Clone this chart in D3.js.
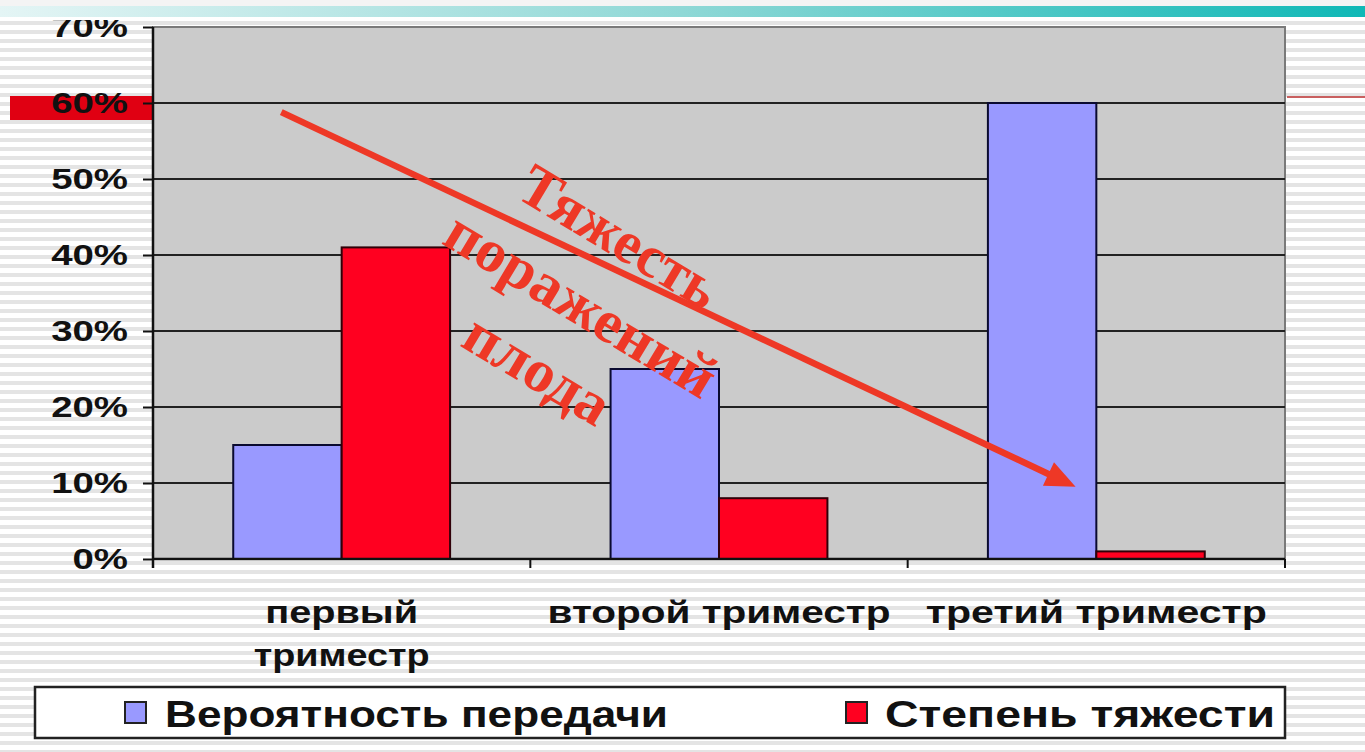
<!DOCTYPE html>
<html lang="ru">
<head>
<meta charset="UTF-8">
<title>Тяжесть поражений плода</title>
<script src="https://d3js.org/d3.v7.min.js"></script>
<style>
  html, body { margin: 0; padding: 0; background: #fff; }
  svg { display: block; }
</style>
</head>
<body>
<div id="chart"></div>
<script>
// data
const categories = ["первый\nтриместр", "второй триместр", "третий триместр"];
const seriesNames = ["Вероятность передачи", "Степень тяжести"];
const transmission = [15, 25, 60];
const severity = [41, 8, 1];
const yTicks = [0, 10, 20, 30, 40, 50, 60, 70];
const noteLines = ["Тяжесть", "поражений", "плода"];

const W = 1365, H = 752;
const SX = 1.28; // the source picture is stretched sideways
const colors = ["#9999ff", "#ff0020"];
const red = "#ee3826";

const svg = d3.select("#chart").append("svg")
    .attr("width", W).attr("height", H);

// striped slide background
const defs = svg.append("defs");
const pat = defs.append("pattern").attr("id", "stripes")
    .attr("width", 10).attr("height", 9).attr("patternUnits", "userSpaceOnUse");
pat.append("rect").attr("width", 10).attr("height", 9).attr("fill", "#ffffff");
pat.append("rect").attr("y", 3).attr("width", 10).attr("height", 4).attr("fill", "#e4e4e4");
const grad = defs.append("linearGradient").attr("id", "teal");
grad.append("stop").attr("offset", "0%").attr("stop-color", "#e4f5f5");
grad.append("stop").attr("offset", "50%").attr("stop-color", "#8fd8d6");
grad.append("stop").attr("offset", "100%").attr("stop-color", "#0fb8b6");

svg.append("rect").attr("width", W).attr("height", H).attr("fill", "url(#stripes)");

// scales
const x0 = d3.scaleBand().domain(categories).range([153, 1285]);
const x1 = d3.scaleBand().domain(seriesNames).range([0, x0.bandwidth()])
    .paddingInner(0).paddingOuter(0.74);
const y = d3.scaleLinear().domain([0, 70]).range([559, 27]);

// red highlight strip behind 60% and line at the right
svg.append("rect").attr("x", 10).attr("y", y(60) - 7).attr("width", 143).attr("height", 24)
    .attr("fill", "#e00012");
svg.append("line").attr("x1", 1287).attr("x2", W).attr("y1", y(60) - 6).attr("y2", y(60) - 6)
    .attr("stroke", "#c96060").attr("stroke-width", 2);

// plot area
svg.append("rect").attr("x", x0.range()[0]).attr("y", y(70))
    .attr("width", x0.range()[1] - x0.range()[0]).attr("height", y(0) - y(70))
    .attr("fill", "#cbcbcb").attr("stroke", "#7a7a7a").attr("stroke-width", 2);

svg.append("g").selectAll("line")
    .data(yTicks.filter(d => d > 0 && d < 70))
    .join("line")
    .attr("x1", x0.range()[0]).attr("x2", x0.range()[1])
    .attr("y1", d => y(d)).attr("y2", d => y(d))
    .attr("stroke", "#222").attr("stroke-width", 2.2);

// bars
const rows = categories.map((c, i) => ({ cat: c, values: [transmission[i], severity[i]] }));
svg.append("g").selectAll("g")
    .data(rows)
    .join("g")
    .attr("transform", d => `translate(${x0(d.cat)},0)`)
    .selectAll("rect")
    .data(d => d.values.map((v, j) => ({ name: seriesNames[j], value: v, j: j })))
    .join("rect")
    .attr("x", d => x1(d.name))
    .attr("width", x1.bandwidth())
    .attr("y", d => y(d.value))
    .attr("height", d => y(0) - y(d.value))
    .attr("fill", d => colors[d.j])
    .attr("stroke", d => d.j === 0 ? "#0a0a30" : "#300008")
    .attr("stroke-width", 2);

// axes
const yAxis = svg.append("g")
    .attr("transform", `translate(${x0.range()[0]},0)`)
    .call(d3.axisLeft(y).tickValues(yTicks).tickSize(10).tickPadding(15).tickFormat(d => d + "%"));
yAxis.select(".domain").attr("stroke", "#111").attr("stroke-width", 2.5)
    .attr("d", `M0,${y(70)}V${y(0) + 9}`);
yAxis.selectAll(".tick line").attr("stroke", "#111").attr("stroke-width", 2);
yAxis.selectAll("text")
    .attr("font-family", "Liberation Sans, Arial, sans-serif")
    .attr("font-weight", "bold").attr("font-size", 30).attr("fill", "#111")
    .each(function () {
        d3.select(this).attr("textLength", this.getComputedTextLength() * SX)
            .attr("lengthAdjust", "spacingAndGlyphs");
    });

const xAxis = svg.append("g").attr("transform", `translate(0,${y(0)})`);
xAxis.append("line").attr("x1", x0.range()[0]).attr("x2", x0.range()[1])
    .attr("stroke", "#111").attr("stroke-width", 2.5);
xAxis.selectAll(".bt")
    .data(categories.map(c => x0(c)).concat([x0.range()[1]]))
    .join("line").attr("class", "bt")
    .attr("x1", d => d).attr("x2", d => d).attr("y1", 0).attr("y2", 9)
    .attr("stroke", "#111").attr("stroke-width", 2);

// category labels
const catWidths = { "первый": 153, "триместр": 176, "второй триместр": 343, "третий триместр": 341 };
const catText = svg.append("g").selectAll("text")
    .data(categories)
    .join("text")
    .attr("x", d => x0(d) + x0.bandwidth() / 2)
    .attr("y", y(0) + 64)
    .attr("text-anchor", "middle")
    .attr("font-family", "Liberation Sans, Arial, sans-serif")
    .attr("font-weight", "bold").attr("font-size", 31)
    .attr("fill", "#111");
catText.selectAll("tspan")
    .data(d => d.split("\n"))
    .join("tspan")
    .attr("x", function () { return this.parentNode.getAttribute("x"); })
    .attr("dy", (d, i) => i === 0 ? 0 : 43)
    .attr("textLength", d => catWidths[d])
    .attr("lengthAdjust", "spacingAndGlyphs")
    .text(d => d);

// legend
const legend = svg.append("g");
legend.append("rect").attr("x", 35).attr("y", 687).attr("width", 1250).attr("height", 51)
    .attr("fill", "#fff").attr("stroke", "#222").attr("stroke-width", 2.5);
const legX = [125, 846];
const legW = [503, 390];
const legItem = legend.selectAll(".item").data(seriesNames).join("g")
    .attr("class", "item")
    .attr("transform", (d, i) => `translate(${legX[i]},702)`);
legItem.append("rect").attr("width", 21).attr("height", 21)
    .attr("fill", (d, i) => colors[i]).attr("stroke", "#222").attr("stroke-width", 2);
legItem.append("text").attr("x", (d, i) => i === 0 ? 40 : 39).attr("y", 25)
    .attr("font-family", "Liberation Sans, Arial, sans-serif")
    .attr("font-weight", "bold").attr("font-size", 37).attr("fill", "#111")
    .attr("textLength", (d, i) => legW[i])
    .attr("lengthAdjust", "spacingAndGlyphs")
    .text(d => d);

// annotation arrow, anchored in data units
const px = (ci, f) => x0(categories[ci]) + x0.bandwidth() * f;
const a0 = [px(0, 0.34), y(58.8)], a1 = [px(2, 0.445), y(9.5)];
const ang = Math.atan2(a1[1] - a0[1], a1[0] - a0[0]);
const headL = 30, headW = 13;
const bx = a1[0] - headL * Math.cos(ang), by = a1[1] - headL * Math.sin(ang);
svg.append("line")
    .attr("x1", a0[0]).attr("y1", a0[1]).attr("x2", bx + 4 * Math.cos(ang)).attr("y2", by + 4 * Math.sin(ang))
    .attr("stroke", red).attr("stroke-width", 6.5);
svg.append("path")
    .attr("d", d3.line()([
        a1,
        [bx + headW * Math.sin(ang), by - headW * Math.cos(ang)],
        [bx - headW * Math.sin(ang), by + headW * Math.cos(ang)]
    ]) + "Z")
    .attr("fill", red);

// rotated note text
const noteC = [px(1, 0.135), y(33.5)];
const noteW = [222, 305, 160];
const note = svg.append("g")
    .attr("transform", `translate(${noteC[0]},${noteC[1]}) rotate(31)`);
note.selectAll("text").data(noteLines).join("text")
    .attr("x", (d, i) => [-2, 0, -4][i])
    .attr("y", (d, i) => (i - 1) * 78)
    .attr("text-anchor", "middle")
    .attr("dominant-baseline", "central")
    .attr("font-family", "Liberation Serif, Times New Roman, serif")
    .attr("font-weight", "bold").attr("font-size", 60)
    .attr("fill", red)
    .attr("textLength", (d, i) => noteW[i])
    .attr("lengthAdjust", "spacingAndGlyphs")
    .text(d => d);

// top slide band (covers top of the 70% label like the source)
svg.append("rect").attr("width", W).attr("height", 6).attr("fill", "#f4f4f4");
svg.append("rect").attr("y", 6).attr("width", W).attr("height", 11).attr("fill", "url(#teal)");
svg.append("rect").attr("y", 17).attr("width", W).attr("height", 3).attr("fill", "#ffffff");
</script>
</body>
</html>
